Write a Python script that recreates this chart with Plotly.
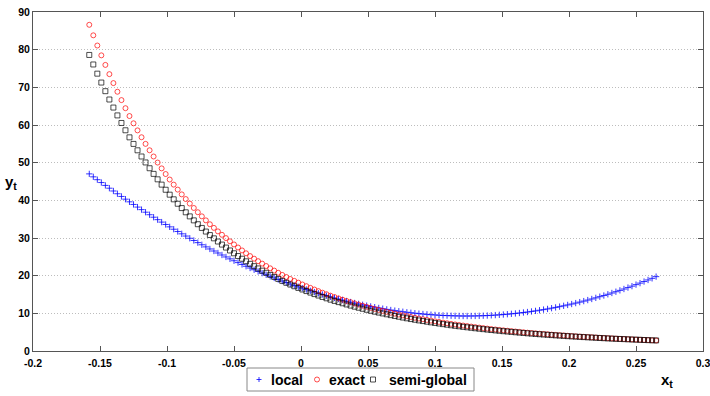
import plotly.graph_objects as go

# ---------------- data ----------------
x_t = [
    -0.158, -0.155, -0.152, -0.149, -0.146, -0.143, -0.140, -0.137, -0.134, -0.131,
    -0.128, -0.125, -0.122, -0.119, -0.116, -0.113, -0.110, -0.107, -0.104, -0.101,
    -0.098, -0.095, -0.092, -0.089, -0.086, -0.083, -0.080, -0.077, -0.074, -0.071,
    -0.068, -0.065, -0.062, -0.059, -0.056, -0.053, -0.050, -0.047, -0.044, -0.041,
    -0.038, -0.035, -0.032, -0.029, -0.026, -0.023, -0.020, -0.017, -0.014, -0.011,
    -0.008, -0.005, -0.002, 0.001, 0.004, 0.007, 0.010, 0.013, 0.016, 0.019,
    0.022, 0.025, 0.028, 0.031, 0.034, 0.037, 0.040, 0.043, 0.046, 0.049,
    0.052, 0.055, 0.058, 0.061, 0.064, 0.067, 0.070, 0.073, 0.076, 0.079,
    0.082, 0.085, 0.088, 0.091, 0.094, 0.097, 0.100, 0.103, 0.106, 0.109,
    0.112, 0.115, 0.118, 0.121, 0.124, 0.127, 0.130, 0.133, 0.136, 0.139,
    0.142, 0.145, 0.148, 0.151, 0.154, 0.157, 0.160, 0.163, 0.166, 0.169,
    0.172, 0.175, 0.178, 0.181, 0.184, 0.187, 0.190, 0.193, 0.196, 0.199,
    0.202, 0.205, 0.208, 0.211, 0.214, 0.217, 0.220, 0.223, 0.226, 0.229,
    0.232, 0.235, 0.238, 0.241, 0.244, 0.247, 0.250, 0.253, 0.256, 0.259,
    0.262, 0.265,
]

local = [
    47.02, 46.24, 45.48, 44.72, 43.96, 43.22, 42.48, 41.75, 41.03, 40.31,
    39.60, 38.91, 38.21, 37.53, 36.85, 36.18, 35.52, 34.87, 34.22, 33.59,
    32.96, 32.33, 31.72, 31.11, 30.52, 29.93, 29.34, 28.77, 28.20, 27.64,
    27.09, 26.55, 26.02, 25.49, 24.97, 24.46, 23.96, 23.47, 22.98, 22.50,
    22.03, 21.57, 21.12, 20.67, 20.24, 19.81, 19.39, 18.98, 18.57, 18.18,
    17.79, 17.41, 17.04, 16.68, 16.33, 15.98, 15.65, 15.32, 15.00, 14.69,
    14.39, 14.09, 13.81, 13.53, 13.26, 13.00, 12.75, 12.51, 12.27, 12.05,
    11.83, 11.63, 11.43, 11.24, 11.05, 10.88, 10.72, 10.56, 10.42, 10.28,
    10.15, 10.03, 9.92, 9.82, 9.73, 9.64, 9.57, 9.50, 9.44, 9.40,
    9.36, 9.33, 9.31, 9.29, 9.29, 9.30, 9.31, 9.34, 9.37, 9.41,
    9.47, 9.53, 9.60, 9.68, 9.77, 9.87, 9.97, 10.09, 10.22, 10.35,
    10.50, 10.65, 10.82, 10.99, 11.17, 11.37, 11.57, 11.78, 12.00, 12.23,
    12.47, 12.72, 12.98, 13.25, 13.52, 13.81, 14.11, 14.42, 14.73, 15.06,
    15.40, 15.74, 16.10, 16.46, 16.84, 17.22, 17.62, 18.02, 18.44, 18.86,
    19.29, 19.74,
]

exact = [
    86.60, 83.81, 81.10, 78.49, 75.95, 73.50, 71.13, 68.83, 66.61, 64.46,
    62.38, 60.45, 58.57, 56.75, 54.99, 53.29, 51.64, 50.03, 48.48, 46.98,
    45.52, 44.17, 42.85, 41.58, 40.34, 39.14, 37.97, 36.84, 35.75, 34.68,
    33.65, 32.69, 31.76, 30.85, 29.98, 29.12, 28.29, 27.48, 26.70, 25.94,
    25.20, 24.51, 23.85, 23.20, 22.56, 21.95, 21.35, 20.77, 20.20, 19.65,
    19.12, 18.62, 18.14, 17.66, 17.21, 16.76, 16.32, 15.90, 15.48, 15.08,
    14.69, 14.33, 13.97, 13.63, 13.29, 12.96, 12.64, 12.33, 12.02, 11.73,
    11.44, 11.17, 10.91, 10.65, 10.40, 10.16, 9.92, 9.68, 9.46, 9.24,
    9.02, 8.82, 8.62, 8.43, 8.24, 8.06, 7.88, 7.71, 7.54, 7.37,
    7.20, 7.05, 6.90, 6.76, 6.62, 6.48, 6.34, 6.21, 6.08, 5.95,
    5.83, 5.71, 5.60, 5.49, 5.38, 5.28, 5.17, 5.07, 4.97, 4.87,
    4.78, 4.69, 4.60, 4.52, 4.44, 4.35, 4.27, 4.20, 4.12, 4.04,
    3.97, 3.90, 3.83, 3.77, 3.70, 3.64, 3.58, 3.52, 3.46, 3.40,
    3.34, 3.29, 3.23, 3.18, 3.13, 3.08, 3.03, 2.98, 2.94, 2.89,
    2.84, 2.80,
]

semi_global = [
    78.60, 76.07, 73.63, 71.27, 68.98, 66.77, 64.63, 62.55, 60.54, 58.60,
    56.72, 54.98, 53.28, 51.64, 50.06, 48.52, 47.02, 45.58, 44.17, 42.81,
    41.50, 40.27, 39.09, 37.94, 36.82, 35.74, 34.68, 33.66, 32.67, 31.71,
    30.78, 29.91, 29.07, 28.25, 27.46, 26.69, 25.94, 25.21, 24.50, 23.81,
    23.14, 22.52, 21.92, 21.33, 20.76, 20.20, 19.66, 19.14, 18.62, 18.12,
    17.64, 17.19, 16.75, 16.33, 15.91, 15.51, 15.11, 14.73, 14.35, 13.99,
    13.63, 13.30, 12.98, 12.67, 12.36, 12.06, 11.77, 11.49, 11.21, 10.94,
    10.68, 10.44, 10.20, 9.97, 9.74, 9.52, 9.30, 9.09, 8.88, 8.68,
    8.48, 8.30, 8.12, 7.95, 7.78, 7.61, 7.45, 7.29, 7.13, 6.98,
    6.83, 6.69, 6.56, 6.42, 6.29, 6.17, 6.04, 5.92, 5.80, 5.69,
    5.57, 5.47, 5.37, 5.26, 5.17, 5.07, 4.97, 4.88, 4.79, 4.70,
    4.61, 4.53, 4.45, 4.37, 4.30, 4.22, 4.15, 4.08, 4.01, 3.94,
    3.87, 3.81, 3.75, 3.69, 3.63, 3.57, 3.51, 3.45, 3.40, 3.34,
    3.29, 3.24, 3.19, 3.15, 3.10, 3.05, 3.01, 2.97, 2.92, 2.88,
    2.84, 2.80,
]

series_names = ["local", "exact", "semi-global"]

x_tick_vals = [-0.2, -0.15, -0.1, -0.05, 0, 0.05, 0.1, 0.15, 0.2, 0.25, 0.3]
x_tick_text = ["-0.2", "-0.15", "-0.1", "-0.05", "0", "0.05", "0.1", "0.15", "0.2", "0.25", "0.3"]
y_tick_vals = [0, 10, 20, 30, 40, 50, 60, 70, 80, 90]
y_tick_text = ["0", "10", "20", "30", "40", "50", "60", "70", "80", "90"]

# ---------------- figure ----------------
FONT = "Liberation Sans, Arial, Helvetica, sans-serif"
AXIS_COLOR = "#555555"
BLUE, RED, BLACK = "#0000ff", "#ff0000", "#000000"

fig = go.Figure()
fig.add_trace(go.Scatter(
    x=x_t, y=local, mode="markers", name=series_names[0],
    marker=dict(symbol="cross-thin-open", size=4.5, color=BLUE,
                line=dict(width=0.8, color=BLUE)),
))
fig.add_trace(go.Scatter(
    x=x_t, y=exact, mode="markers", name=series_names[1],
    marker=dict(symbol="circle-open", size=5, color=RED,
                line=dict(width=0.7, color=RED)),
))
fig.add_trace(go.Scatter(
    x=x_t, y=semi_global, mode="markers", name=series_names[2],
    marker=dict(symbol="square-open", size=5, color=BLACK,
                line=dict(width=0.7, color=BLACK)),
))

# ---- hand-built legend box (MATLAB style), placed below the axes ----
L, R, T, B, H = 33, 7, 12, 45, 339  # margins / plot height in px
W = 710 - L - R


def px_x(px):
    return (px - L) / W


def px_y(py):
    return (T + H - py) / H


shapes = [
    dict(type="rect", xref="paper", yref="paper",
         x0=px_x(247), x1=px_x(474), y0=px_y(368), y1=px_y(391),
         line=dict(color="#888888", width=1), fillcolor="white", layer="above"),
]
ly = px_y(379.5)
shapes += [
    dict(type="line", xref="paper", yref="paper", xsizemode="pixel", ysizemode="pixel",
         xanchor=px_x(259), yanchor=ly, x0=-2.5, x1=2.5, y0=0, y1=0,
         line=dict(color=BLUE, width=0.8), layer="above"),
    dict(type="line", xref="paper", yref="paper", xsizemode="pixel", ysizemode="pixel",
         xanchor=px_x(259), yanchor=ly, x0=0, x1=0, y0=-2.5, y1=2.5,
         line=dict(color=BLUE, width=0.8), layer="above"),
    dict(type="circle", xref="paper", yref="paper", xsizemode="pixel", ysizemode="pixel",
         xanchor=px_x(317), yanchor=ly, x0=-2.5, x1=2.5, y0=-2.5, y1=2.5,
         line=dict(color=RED, width=0.7), layer="above"),
    dict(type="rect", xref="paper", yref="paper", xsizemode="pixel", ysizemode="pixel",
         xanchor=px_x(373), yanchor=ly, x0=-2.5, x1=2.5, y0=-2.5, y1=2.5,
         line=dict(color=BLACK, width=0.7), layer="above"),
]

legend_font = dict(family=FONT, size=14, color="black", weight="bold")
annotations = [
    dict(text=series_names[0], xref="paper", yref="paper", x=px_x(269), y=ly,
         xanchor="left", yanchor="middle", showarrow=False, font=legend_font),
    dict(text=series_names[1], xref="paper", yref="paper", x=px_x(327), y=ly,
         xanchor="left", yanchor="middle", showarrow=False, font=legend_font),
    dict(text=series_names[2], xref="paper", yref="paper", x=px_x(387), y=ly,
         xanchor="left", yanchor="middle", showarrow=False, font=legend_font),
    dict(text="x<sub>t</sub>", xref="paper", yref="paper", x=px_x(667), y=px_y(381),
         xanchor="center", yanchor="middle", showarrow=False,
         font=dict(family=FONT, size=15, color="black", weight="bold")),
    dict(text="y<sub>t</sub>", xref="paper", yref="paper", x=px_x(11), y=px_y(182),
         xanchor="center", yanchor="middle", showarrow=False,
         font=dict(family=FONT, size=15, color="black", weight="bold")),
]

fig.update_layout(
    width=710, height=396,
    margin=dict(l=L, r=R, t=T, b=B, autoexpand=False),
    paper_bgcolor="white", plot_bgcolor="white",
    font=dict(family=FONT, color="black"),
    showlegend=False,
    shapes=shapes,
    annotations=annotations,
    xaxis=dict(
        range=[-0.2, 0.3], tickvals=x_tick_vals, ticktext=x_tick_text,
        ticks="inside", ticklen=5, tickcolor=AXIS_COLOR, tickwidth=1,
        showline=True, linecolor=AXIS_COLOR, linewidth=1, mirror="ticks",
        showgrid=False, zeroline=False, automargin=False,
        ticklabeloverflow="allow", ticklabelstandoff=2,
        tickfont=dict(family=FONT, size=10.5, color="black", weight="bold"),
    ),
    yaxis=dict(
        range=[0, 90], tickvals=y_tick_vals, ticktext=y_tick_text,
        ticks="inside", ticklen=5, tickcolor=AXIS_COLOR, tickwidth=1,
        showline=True, linecolor=AXIS_COLOR, linewidth=1, mirror="ticks",
        showgrid=True, gridcolor="#bdbdbd", gridwidth=1, griddash="1px,2px",
        zeroline=False, automargin=False,
        ticklabeloverflow="allow",
        tickfont=dict(family=FONT, size=10.5, color="black", weight="bold"),
    ),
)

fig.write_html("out.html")
